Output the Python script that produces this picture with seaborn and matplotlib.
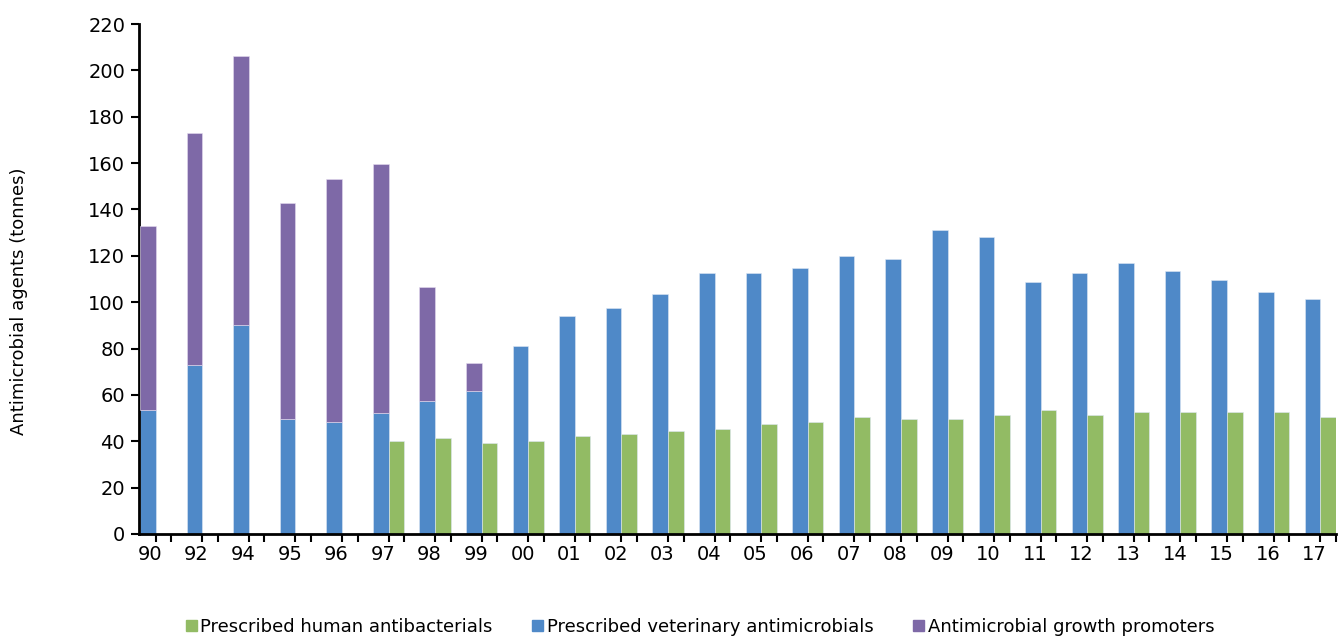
import numpy as np
import pandas as pd
import seaborn as sns
import matplotlib.pyplot as plt
from matplotlib.patches import Patch

years = ["90", "92", "94", "95", "96", "97", "98", "99", "00", "01", "02", "03", "04",
         "05", "06", "07", "08", "09", "10", "11", "12", "13", "14", "15", "16", "17"]

# prescribed veterinary antimicrobials (tonnes)
vet = [53.5, 73, 90, 49.6, 48.3, 52, 57.5, 61.5, 81, 94, 97.4, 103.4, 112.6,
       112.6, 114.6, 119.8, 118.8, 131, 128, 108.6, 112.6, 116.8, 113.6, 109.6, 104.4, 101.4]

# antimicrobial growth promoters (stacked on vet)
growth = [79.5, 100, 116, 93.4, 104.7, 107.6, 49.1, 12.3, 0, 0, 0, 0, 0,
          0, 0, 0, 0, 0, 0, 0, 0, 0, 0, 0, 0, 0]

# prescribed human antibacterials
human = [np.nan, np.nan, np.nan, np.nan, np.nan, 40, 41.4, 39.3, 40.1, 42.3, 43.1, 44.4, 45.3,
         47.5, 48.3, 50.5, 49.6, 49.6, 51.3, 53.5, 51.3, 52.6, 52.6, 52.6, 52.6, 50.5]

c_vet = "#4F89C8"
c_human = "#92BB64"
c_growth = "#7E69A7"

sns.set_style("white")
plt.rcParams['font.family'] = ['DejaVu Sans']
plt.rcParams['text.color'] = 'black'
plt.rcParams['xtick.color'] = 'black'
plt.rcParams['ytick.color'] = 'black'
plt.rcParams['axes.labelcolor'] = 'black'

df = pd.DataFrame({
    "year": years * 2,
    "tonnes": vet + human,
    "series": ["vet"] * len(years) + ["human"] * len(years),
})

fig = plt.figure(figsize=(13.41, 6.37), dpi=100)
ax = fig.add_axes([0.1037, 0.1617, 0.8926, 0.8006])

sns.barplot(data=df, x="year", y="tonnes", hue="series", hue_order=["vet", "human"],
            order=years, palette=[c_vet, c_human], saturation=1, width=0.67, dodge=True,
            edgecolor="#dfe8f4", linewidth=0.4, ax=ax, legend=False)

# growth promoters stacked on the veterinary bars
x = np.arange(len(years))
g = np.array(growth)
mask = g > 0
ax.bar(x[mask] - 0.1675, g[mask], width=0.335, bottom=np.array(vet)[mask],
       color=c_growth, edgecolor="#e4dcef", linewidth=0.4, zorder=3)

ax.set_xlim(-0.355, 25.34)
ax.set_ylim(0, 220)
ax.set_yticks(np.arange(0, 221, 20))
ax.tick_params(axis="y", labelsize=14, direction="out", length=6, width=1.5, left=True, pad=4)

ax.set_xticks(x - 0.12)
ax.set_xticklabels(years, fontsize=14)
ax.tick_params(axis="x", which="major", length=0, pad=8)
ax.set_xticks(np.concatenate([x, x + 0.335]), minor=True)
ax.tick_params(axis="x", which="minor", direction="out", length=6, width=1.5, bottom=True)

ax.set_xlabel("")
ax.set_ylabel("Antimicrobial agents (tonnes)", fontsize=13)
ax.yaxis.set_label_coords(-0.093, 0.457)

for s in ["top", "right"]:
    ax.spines[s].set_visible(False)
for s in ["left", "bottom"]:
    ax.spines[s].set_color("black")
    ax.spines[s].set_linewidth(2)

handles = [Patch(color=c_human, label="Prescribed human antibacterials"),
           Patch(color=c_vet, label="Prescribed veterinary antimicrobials"),
           Patch(color=c_growth, label="Antimicrobial growth promoters")]
fig.legend(handles=handles, loc="center", bbox_to_anchor=(0.522, 0.016), ncol=3,
           frameon=False, fontsize=13, handlelength=0.6, handleheight=0.6,
           handletextpad=0.2, columnspacing=2.2)

plt.savefig("out.png", dpi=100)
